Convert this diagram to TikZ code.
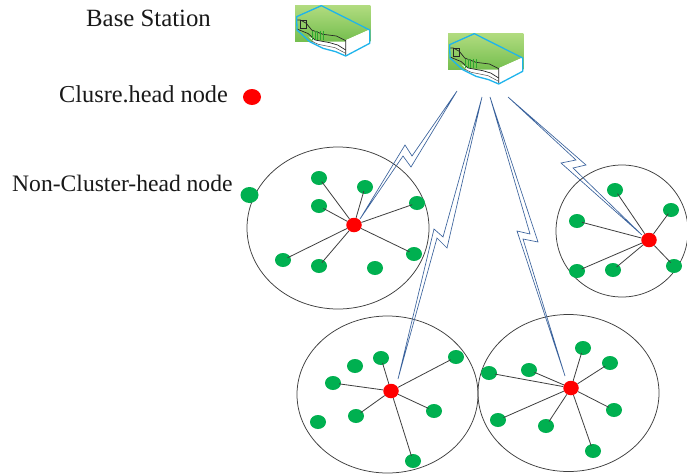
\documentclass[tikz,border=0pt]{standalone}
\usepackage{fontspec}
\setmainfont{Liberation Serif}
\usetikzlibrary{shapes.geometric}
\definecolor{gnode}{HTML}{00B050}
\definecolor{rnode}{HTML}{FF0000}
\definecolor{skyline}{HTML}{1FB4EC}
\definecolor{bolt}{HTML}{3A629C}
\definecolor{graphite}{HTML}{3F3F3F}
\definecolor{hatch}{HTML}{2FA62F}
\definecolor{icontop}{HTML}{B2DC80}
\definecolor{iconlow}{HTML}{74BE4E}
\tikzset{
  gn/.style={ellipse,fill=gnode,minimum width=16pt,minimum height=14pt,inner sep=0pt},
  rn/.style={ellipse,fill=rnode,minimum width=15.5pt,minimum height=14.5pt,inner sep=0pt},
  cluster/.style={ellipse,draw=graphite,line width=0.75pt,inner sep=0pt},
  spoke/.style={draw=graphite,line width=0.8pt},
  boltline/.style={draw=bolt,line width=0.65pt,line join=miter,miter limit=3},
  label/.style={anchor=base west,inner sep=0pt,text=black!90},
}
\newcommand{\stationicon}[2]{%
\begin{scope}[shift={(#1,#2)},x=0.3333pt,y=-0.3333pt]
  \shade[top color=icontop,bottom color=iconlow] (0,0) rectangle (226,110);
  \fill[white] (44,110) -- (226,110) -- (224,115) -- (152,153) -- (122,140) -- (84,130) -- cycle;
  \fill[white] (152,107) -- (224,75) -- (224,115) -- (152,153) -- cycle;
  \draw[white,line width=0.9pt] (152,107) -- (224,75);
  \fill[white] (40,94) -- (60,105) -- (104,113) -- (128,120) -- (152,135) -- (152,150) -- (122,132) -- (84,122) -- (58,112) -- cycle;
  \draw[black!85,line width=0.7pt] (6,45) -- (16,45) -- (34,55) -- (50,75) -- (84,88) -- (124,93) -- (152,107) -- (152,152);
  \draw[black!85,line width=0.7pt] (6,72) -- (40,86) -- (60,105) -- (104,113) -- (128,120) -- (152,135);
  \draw[black!70,line width=0.5pt] (48,108) -- (70,118) -- (120,128) -- (152,145);
  \draw[black!85,line width=0.6pt] (16,45) rectangle (34,70);
  \foreach \hx in {52,60,...,88}{\draw[hatch,line width=0.6pt] (\hx,78) -- (\hx,106);}
  \draw[skyline,line width=1.3pt,line join=round] (5,35) -- (79,2) -- (224,75) -- (224,115) -- (152,153) -- (122,140) -- (84,130) -- (44,110) -- (6,75) -- cycle;
\end{scope}}
\begin{document}
\begin{tikzpicture}[x=1pt,y=-1pt]
\useasboundingbox (0,0) rectangle (687,474);
\fill[white] (0,0) rectangle (687,474);
% clusters
\node[cluster,minimum width=182pt,minimum height=162pt] (clusterA) at (338,228) {};
\node[cluster,minimum width=132pt,minimum height=132pt] (clusterB) at (622,231) {};
\node[cluster,minimum width=181pt,minimum height=157pt] (clusterC) at (387.5,394.5) {};
\node[cluster,minimum width=181pt,minimum height=157pt] (clusterD) at (568.5,393) {};
% stations
\stationicon{295}{5}
\stationicon{448}{33}
% legend
\node[label,font=\fontsize{24.8}{28}\selectfont] (lbase) at (86,26) {Base Station};
\node[label,font=\fontsize{24.3}{28}\selectfont] (lhead) at (59,102) {Clusre.head node};
\node[label,font=\fontsize{23.6}{28}\selectfont] (lnon) at (12,191) {Non-Cluster-head node};
\node[rn,minimum width=18pt,minimum height=16pt] (legendRed) at (252,97) {};
\node[gn,minimum width=18pt,minimum height=16pt] (legendGreen) at (249.5,195) {};
% green nodes
\foreach \n/\x/\y in {a1/319/178,a2/365/187,a3/319/206,a4/417/203,a5/414/254,a6/375/268,a7/319/266,a8/283/260,
  b1/615/190,b2/671/210,b3/577/221,b4/577/271,b5/613/270,b6/674/266,
  c1/381/358,c2/355/366,c3/456/357,c4/333/383,c5/356/416,c6/434/411,c7/413/461,c8/318/422,
  d1/583/348,d2/610/363,d3/529/370,d4/489/373,d5/498/420,d6/546/426,d7/614/410,d8/593/451}
  {\node[gn] (\n) at (\x,\y) {};}
% heads
\node[rn] (ra) at (354,225) {};
\node[rn] (rb) at (649,240) {};
\node[rn] (rc) at (391,391) {};
\node[rn] (rd) at (571,388) {};
% spokes
\foreach \n in {a1,a2,a3,a4,a5,a7,a8} {\draw[spoke,shorten >=-3pt] (ra) -- (\n);}
\foreach \n in {b1,b2,b3,b4,b5,b6} {\draw[spoke,shorten >=-3pt] (rb) -- (\n);}
\foreach \n in {c1,c3,c4,c5,c6,c7} {\draw[spoke,shorten >=-2pt] (rc) -- (\n);}
\foreach \n in {d1,d2,d3,d4,d5,d6,d7,d8} {\draw[spoke,shorten >=-2pt] (rd) -- (\n);}
% lightning links
\draw[boltline] (457,91) -- (412,156) -- (405,145) -- (360,219) -- (403,156) -- (411,167) -- cycle;
\draw[boltline] (482,97) -- (443,237) -- (434,229) -- (398,379) -- (437,238) -- (447,248) -- cycle;
\draw[boltline] (490,97) -- (530,234) -- (517,231) -- (565,376) -- (523,239) -- (538,242) -- cycle;
\draw[boltline] (508,97) -- (576,160) -- (561,163) -- (642,235) -- (573,168) -- (586,165) -- cycle;
\end{tikzpicture}
\end{document}
